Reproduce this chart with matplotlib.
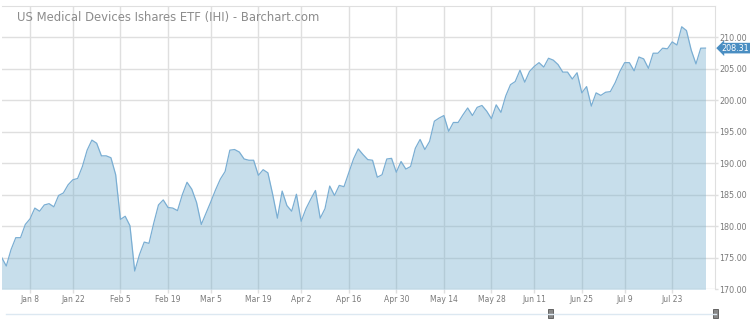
import matplotlib
matplotlib.use("Agg")
import matplotlib.pyplot as plt
from matplotlib.patches import Rectangle
from matplotlib.lines import Line2D
import matplotlib.transforms as mtransforms

# daily closes, one per trading day (Dec 28 2017 .. Aug 1 2018)
closes = [
    175.1, 173.7, 176.3, 178.2, 178.2, 180.3, 181.2, 182.9, 182.4, 183.4,
    183.6, 183.1, 184.9, 185.3, 186.6, 187.4, 187.6, 189.5, 192.1, 193.7,
    193.2, 191.2, 191.2, 190.9, 188.2, 181.1, 181.6, 180.1, 172.9, 175.5,
    177.5, 177.3, 180.5, 183.4, 184.2, 183.0, 182.9, 182.5, 185.0, 187.0,
    185.9, 183.8, 180.3, 182.1, 183.9, 185.8, 187.5, 188.7, 192.1, 192.2,
    191.8, 190.7, 190.5, 190.5, 188.1, 189.0, 188.5, 185.1, 181.3, 185.6,
    183.3, 182.4, 185.1, 180.8, 182.8, 184.3, 185.7, 181.3, 182.8, 186.4,
    184.9, 186.5, 186.3, 188.5, 190.7, 192.3, 191.4, 190.6, 190.5, 187.8,
    188.2, 190.7, 190.8, 188.6, 190.3, 189.1, 189.5, 192.4, 193.8, 192.2,
    193.5, 196.7, 197.2, 197.6, 195.1, 196.5, 196.5, 197.7, 198.8, 197.6,
    198.9, 199.2, 198.3, 197.1, 199.3, 198.1, 200.7, 202.5, 203.0, 204.8,
    202.9, 204.6, 205.4, 206.0, 205.3, 206.7, 206.4, 205.7, 204.5, 204.5,
    203.4, 204.4, 201.2, 202.2, 199.1, 201.2, 200.8, 201.3, 201.4, 202.8,
    204.6, 206.0, 206.0, 204.7, 206.9, 206.6, 205.1, 207.5, 207.5, 208.3,
    208.2, 209.3, 208.8, 211.7, 211.1, 208.0, 205.8, 208.3, 208.31,
]
tick_days = [6, 15, 25, 35, 44, 54, 63, 73, 83, 93, 103, 112, 122, 131, 141]
tick_labels = ["Jan 8", "Jan 22", "Feb 5", "Feb 19", "Mar 5", "Mar 19", "Apr 2",
               "Apr 16", "Apr 30", "May 14", "May 28", "Jun 11", "Jun 25",
               "Jul 9", "Jul 23"]
price_ticks = [170, 175, 180, 185, 190, 195, 200, 205, 210]
last_price = closes[-1]
title = "US Medical Devices Ishares ETF (IHI) - Barchart.com"

W, H = 750, 324
fig = plt.figure(figsize=(W / 100, H / 100), dpi=100)
ax = fig.add_axes([2 / W, 1 - 289.3 / H, 713 / W, 283.3 / H])

days = list(range(len(closes)))
grid_col = "#dfdfdf"
ax.fill_between(days, closes, 170, color="#75adcd", alpha=0.4, lw=0)
ax.plot(days, closes, color="#7aaed3", lw=0.9)

ax.set_xlim(0.1, 150)
ax.set_ylim(170, 215)
ax.set_xticks(tick_days)
ax.set_xticklabels(tick_labels)
ax.set_yticks(price_ticks)
ax.set_yticklabels(["%.2f" % v for v in price_ticks])
ax.yaxis.tick_right()
ax.set_axisbelow(True)
ax.grid(True, color=grid_col, lw=1.0)

for s in ["left", "bottom"]:
    ax.spines[s].set_visible(False)
ax.spines["top"].set_color(grid_col)
ax.spines["right"].set_color(grid_col)
ax.tick_params(axis="x", length=3.2, width=1.0, color=grid_col, pad=1.2,
               labelsize=5.5, labelcolor="#7a7a7a")
ax.tick_params(axis="y", length=2.5, width=1.0, color=grid_col, pad=0.6,
               labelsize=5.8, labelcolor="#7a7a7a")

fig.text(17 / W, 1 - 18 / H, title, fontsize=8.4, color="#8c8c8c",
         ha="left", va="center")

# last price marker on the right axis
trans = mtransforms.blended_transform_factory(ax.transAxes, ax.transData)
ax.text(1.0095, last_price, "%.2f" % last_price, transform=trans, fontsize=5.8,
        color="white", ha="left", va="center", clip_on=False,
        bbox=dict(boxstyle="larrow,pad=0.1", fc="#4a8ec2", ec="none"))

# navigator bar at the bottom
fig.add_artist(Line2D([6 / W, 716 / W], [1 - 313.7 / H, 1 - 313.7 / H],
                      color="#dce8f1", lw=1.0))
for hx in [550.7, 715.3]:
    fig.add_artist(Rectangle(((hx - 2.3) / W, 1 - 318.3 / H), 4.6 / W, 9 / H,
                             fc="#888888", ec="#555555", lw=0.6))

fig.savefig("out.png", dpi=100)
